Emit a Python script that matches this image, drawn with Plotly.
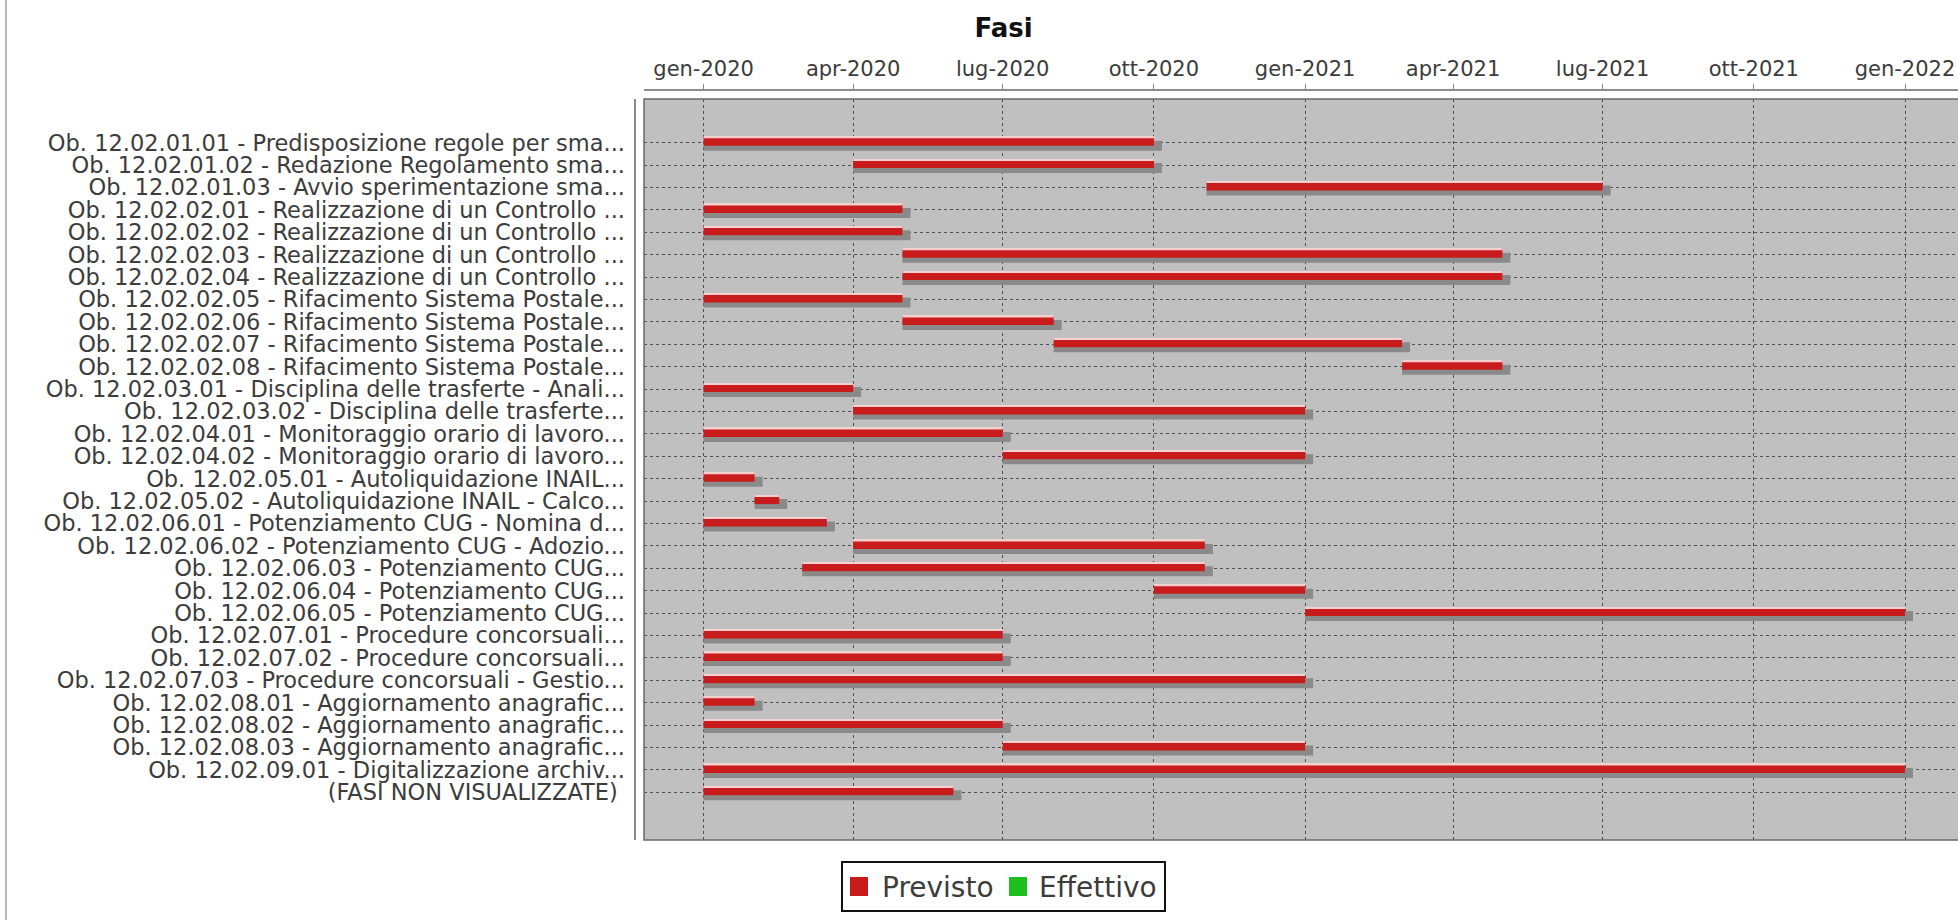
import plotly.graph_objects as go
import pandas as pd

W, H = 1958, 920

# ---------------- data ----------------
task_labels = [
    "Ob. 12.02.01.01 - Predisposizione regole per sma...",
    "Ob. 12.02.01.02 - Redazione Regolamento sma...",
    "Ob. 12.02.01.03 - Avvio sperimentazione sma...",
    "Ob. 12.02.02.01 - Realizzazione di un Controllo ...",
    "Ob. 12.02.02.02 - Realizzazione di un Controllo ...",
    "Ob. 12.02.02.03 - Realizzazione di un Controllo ...",
    "Ob. 12.02.02.04 - Realizzazione di un Controllo ...",
    "Ob. 12.02.02.05 - Rifacimento Sistema Postale...",
    "Ob. 12.02.02.06 - Rifacimento Sistema Postale...",
    "Ob. 12.02.02.07 - Rifacimento Sistema Postale...",
    "Ob. 12.02.02.08 - Rifacimento Sistema Postale...",
    "Ob. 12.02.03.01 - Disciplina delle trasferte - Anali...",
    "Ob. 12.02.03.02 - Disciplina delle trasferte...",
    "Ob. 12.02.04.01 - Monitoraggio orario di lavoro...",
    "Ob. 12.02.04.02 - Monitoraggio orario di lavoro...",
    "Ob. 12.02.05.01 - Autoliquidazione INAIL...",
    "Ob. 12.02.05.02 - Autoliquidazione INAIL - Calco...",
    "Ob. 12.02.06.01 - Potenziamento CUG - Nomina d...",
    "Ob. 12.02.06.02 - Potenziamento CUG - Adozio...",
    "Ob. 12.02.06.03 - Potenziamento CUG...",
    "Ob. 12.02.06.04 - Potenziamento CUG...",
    "Ob. 12.02.06.05 - Potenziamento CUG...",
    "Ob. 12.02.07.01 - Procedure concorsuali...",
    "Ob. 12.02.07.02 - Procedure concorsuali...",
    "Ob. 12.02.07.03 - Procedure concorsuali - Gestio...",
    "Ob. 12.02.08.01 - Aggiornamento anagrafic...",
    "Ob. 12.02.08.02 - Aggiornamento anagrafic...",
    "Ob. 12.02.08.03 - Aggiornamento anagrafic...",
    "Ob. 12.02.09.01 - Digitalizzazione archiv...",
    "(FASI NON VISUALIZZATE)\u00a0",
]

previsto_start = [
    "2020-01-01", "2020-04-01", "2020-11-02", "2020-01-01", "2020-01-01",
    "2020-05-01", "2020-05-01", "2020-01-01", "2020-05-01", "2020-08-01",
    "2021-03-01", "2020-01-01", "2020-04-01", "2020-01-01", "2020-07-01",
    "2020-01-01", "2020-02-01", "2020-01-01", "2020-04-01", "2020-03-01",
    "2020-10-01", "2021-01-01", "2020-01-01", "2020-01-01", "2020-01-01",
    "2020-01-01", "2020-01-01", "2020-07-01", "2020-01-01", "2020-01-01",
]
previsto_end = [
    "2020-09-30", "2020-09-30", "2021-06-30", "2020-04-30", "2020-04-30",
    "2021-04-30", "2021-04-30", "2020-04-30", "2020-07-31", "2021-02-28",
    "2021-04-30", "2020-03-31", "2020-12-31", "2020-06-30", "2020-12-31",
    "2020-01-31", "2020-02-15", "2020-03-15", "2020-10-31", "2020-10-31",
    "2020-12-31", "2021-12-31", "2020-06-30", "2020-06-30", "2020-12-31",
    "2020-01-31", "2020-06-30", "2020-12-31", "2021-12-31", "2020-05-31",
]
# "Effettivo" has no recorded phases in the chart
effettivo_start = [None] * len(task_labels)
effettivo_end = [None] * len(task_labels)

series_names = ["Previsto", "Effettivo"]
series_colors = ["#C81C1C", "#1FBF1F"]

tick_dates = ["2020-01-01", "2020-04-01", "2020-07-01", "2020-10-01", "2021-01-01",
              "2021-04-01", "2021-07-01", "2021-10-01", "2022-01-01"]
tick_labels = ["gen-2020", "apr-2020", "lug-2020", "ott-2020", "gen-2021",
               "apr-2021", "lug-2021", "ott-2021", "gen-2022"]
chart_title = "Fasi"

# ---------------- layout geometry (pixels) ----------------
PLOT_L, PLOT_R, PLOT_T, PLOT_B = 644, 1958, 99, 840
AXIS_Y = 90
ROW0_PX, ROW_PX = 142.7, 22.4
X0_PX, X1_PX = 703.6, 1905.0          # pixel of first / last tick
FONT = "DejaVu Sans"

def px_x(px):
    return (px - PLOT_L) / (PLOT_R - PLOT_L)

def px_y(py):
    return (PLOT_B - py) / (PLOT_B - AXIS_Y)

t0 = pd.Timestamp(tick_dates[0])
t1 = pd.Timestamp(tick_dates[-1])
px_per_day = (X1_PX - X0_PX) / (t1 - t0).days
x_left = t0 + pd.Timedelta(days=(PLOT_L - X0_PX) / px_per_day)
x_right = t0 + pd.Timedelta(days=(PLOT_R - X0_PX) / px_per_day)

rows = list(range(len(task_labels)))
starts = pd.to_datetime(previsto_start)
ends = pd.to_datetime(previsto_end) + pd.Timedelta(days=1)   # end date inclusive
dur_ms = [(e - s).total_seconds() * 1000 for s, e in zip(starts, ends)]
shadow_extra_ms = 8 / px_per_day * 86400000
y_top = (PLOT_T - ROW0_PX) / ROW_PX
y_bot = (PLOT_B - ROW0_PX) / ROW_PX

fig = go.Figure()

# shadow
fig.add_trace(go.Bar(
    orientation="h", y=rows, base=previsto_start,
    x=[d + shadow_extra_ms for d in dur_ms],
    offset=-2 / ROW_PX, width=10 / ROW_PX,
    marker=dict(color="#8A8A8A", line=dict(width=0)),
    showlegend=False, hoverinfo="skip"))
# Previsto
fig.add_trace(go.Bar(
    name=series_names[0], orientation="h", y=rows, base=previsto_start, x=dur_ms,
    offset=-6 / ROW_PX, width=9 / ROW_PX,
    marker=dict(color=series_colors[0], line=dict(width=0)),
    showlegend=False))
# highlight stripe (gradient look)
fig.add_trace(go.Bar(
    orientation="h", y=rows, base=previsto_start, x=dur_ms,
    offset=-6 / ROW_PX, width=1.6 / ROW_PX,
    marker=dict(color="#F6D0D0", line=dict(width=0)),
    showlegend=False, hoverinfo="skip"))
# Effettivo (empty)
fig.add_trace(go.Bar(
    name=series_names[1], orientation="h", y=rows, base=effettivo_start,
    x=effettivo_end, offset=3 / ROW_PX, width=9 / ROW_PX,
    marker=dict(color=series_colors[1]), showlegend=False))
# carrier for the top date axis
fig.add_trace(go.Scatter(x=tick_dates, y=[None] * len(tick_dates), xaxis="x2",
                         mode="markers", showlegend=False, hoverinfo="skip"))

grid_style = dict(showgrid=True, gridcolor="#505050", gridwidth=1, griddash="3px,3px")

fig.update_layout(
    width=W, height=H, barmode="overlay",
    margin=dict(l=PLOT_L, r=W - PLOT_R, t=AXIS_Y, b=H - PLOT_B, autoexpand=False),
    paper_bgcolor="white", plot_bgcolor="#C0C0C0",
    font=dict(family=FONT, color="#3C3C3C"),
    showlegend=False,
    title=dict(text=chart_title, x=px_x(1003.5), xref="paper", xanchor="center",
               y=1 - 28 / H, yref="container", yanchor="middle",
               font=dict(family=FONT, size=26, color="#111111", weight="bold")),
    xaxis=dict(type="date", range=[x_left, x_right], domain=[0, 1], anchor="y",
               tickvals=tick_dates, showticklabels=False, ticks="",
               showline=False, zeroline=False, **grid_style),
    xaxis2=dict(type="date", overlaying="x", matches="x", side="top",
                anchor="free", position=1, range=[x_left, x_right],
                tickvals=tick_dates, ticktext=tick_labels,
                ticks="outside", ticklen=5, tickwidth=1, tickcolor="#888888",
                showline=True, linecolor="#8C8C8C", linewidth=2,
                showgrid=False, zeroline=False, ticklabelstandoff=0,
                tickfont=dict(family=FONT, size=21, color="#3C3C3C")),
    yaxis=dict(range=[y_bot, y_top], domain=[0, px_y(PLOT_T)],
               tickvals=rows, ticktext=task_labels, ticks="",
               ticklabelstandoff=18, zeroline=False, showline=False,
               tickfont=dict(family=FONT, size=22.5, color="#3C3C3C"),
               **grid_style),
)

shapes = [
    # plot border (right side runs off the page)
    dict(type="rect", xref="paper", yref="paper", x0=0, x1=px_x(1966),
         y0=0, y1=px_y(PLOT_T), line=dict(color="#6A6A6A", width=1.5),
         fillcolor="rgba(0,0,0,0)", layer="above"),
    # category axis line
    dict(type="line", xref="paper", yref="paper", x0=px_x(635), x1=px_x(635),
         y0=px_y(PLOT_T), y1=px_y(PLOT_B), line=dict(color="#8C8C8C", width=2)),
    # page border on the left
    dict(type="line", xref="paper", yref="paper", x0=px_x(6), x1=px_x(6),
         y0=px_y(0), y1=px_y(H), line=dict(color="#B8B8B8", width=2)),
    # legend box
    dict(type="rect", xref="paper", yref="paper", x0=px_x(842), x1=px_x(1165),
         y0=px_y(911), y1=px_y(862), line=dict(color="#111111", width=2),
         fillcolor="white"),
]
legend_sq_x = [850, 1009]
legend_txt_x = [880, 1037]
annotations = []
for name, color, sx, tx in zip(series_names, series_colors, legend_sq_x, legend_txt_x):
    shapes.append(dict(type="rect", xref="paper", yref="paper",
                       x0=px_x(sx), x1=px_x(sx + 18), y0=px_y(896), y1=px_y(877),
                       line=dict(width=0), fillcolor=color))
    annotations.append(dict(text=name, xref="paper", yref="paper", x=px_x(tx),
                            y=px_y(887), xanchor="left", yanchor="middle",
                            showarrow=False,
                            font=dict(family=FONT, size=28, color="#3C3C3C")))
fig.update_layout(shapes=shapes, annotations=annotations)

fig.write_html("out.html", config={"displayModeBar": False},
               post_script="document.body.style.margin='0';")
